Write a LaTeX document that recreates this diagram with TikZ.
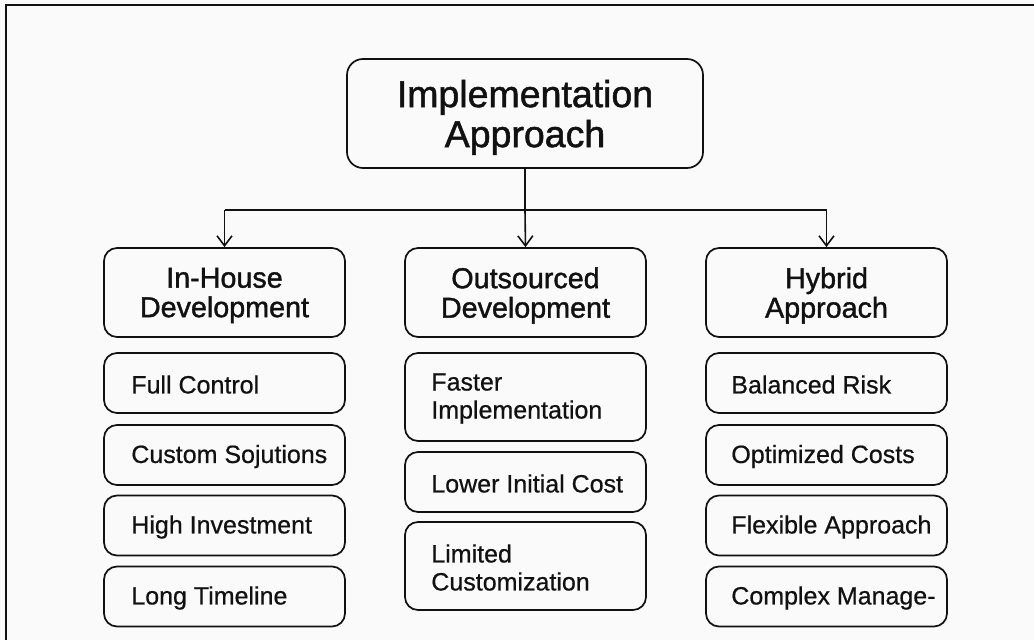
\documentclass[tikz,border=0pt]{standalone}
\usepackage{fontspec}
\setmainfont{Liberation Sans}
\newfontfamily\headfont[FakeBold=1.4]{Liberation Sans}
\newfontfamily\itemfont[FakeBold=0.6]{Liberation Sans}
\usetikzlibrary{arrows.meta}
\definecolor{bgc}{HTML}{FAFAFA}
\definecolor{ink}{HTML}{111111}
\tikzset{
  box/.style={draw=ink, line width=1.7pt, rounded corners=13pt, minimum width=241pt, inner sep=0pt},
  titlebox/.style={draw=ink, line width=1.7pt, rounded corners=16pt, minimum width=356pt, minimum height=109pt, inner sep=0pt,
    font=\headfont\fontsize{37.5}{40}\selectfont, align=center, text=ink, text depth=0pt},
  headbox/.style={box, minimum height=89pt, font=\headfont\fontsize{28.7}{29.5}\selectfont, align=center, text=ink, text depth=0pt},
  itembox/.style={box, minimum height=60pt},
  tallbox/.style={box, minimum height=88pt},
  itemtext/.style={anchor=west, inner sep=0pt, font=\itemfont\fontsize{25}{28}\selectfont, align=left, text=ink, yshift=-1.5pt},
  conn/.style={draw=ink, line width=1.6pt},
  arr/.style={conn, -{Straight Barb[length=10pt,width=15pt,line width=1.6pt]}}
}
\begin{document}
\begin{tikzpicture}[x=1pt,y=-1pt]
\fill[bgc] (0,0) rectangle (1034,640);
\useasboundingbox (0,0) rectangle (1034,640);
\draw[ink, line width=2.4pt] (6,645) -- (6,5) -- (1040,5);

\node[titlebox] (top) at (525,113.5) {Implementation\\Approach};

\node[headbox] (h1) at (224.5,292.5) {In-House\\Development};
\node[headbox] (h2) at (525.5,292.5) {Outsourced\\Development};
\node[headbox] (h3) at (826.5,292.5) {Hybrid\\Approach};

\coordinate (jn) at (525,210);
\coordinate (jl) at (224.5,210);
\coordinate (jr) at (826.5,210);
\draw[conn] (top.south) -- (jn);
\draw[conn] (jl) -- (jr);
\draw[arr] (jl) -- (h1.north);
\draw[arr] (jn) -- (h2.north);
\draw[arr] (jr) -- (h3.north);

% left column
\node[itembox] (a1) at (224.5,383) {};
\node[itemtext] (a1t) at ([xshift=28pt]a1.west) {Full Control};
\node[itembox] (a2) at (224.5,455) {};
\node[itemtext] (a2t) at ([xshift=28pt]a2.west) {Custom Sojutions};
\node[itembox] (a3) at (224.5,525.5) {};
\node[itemtext] (a3t) at ([xshift=28pt]a3.west) {High Investment};
\node[itembox] (a4) at (224.5,596.5) {};
\node[itemtext] (a4t) at ([xshift=28pt]a4.west) {Long Timeline};

% middle column
\node[tallbox] (b1) at (525.5,397) {};
\node[itemtext] (b1t) at ([xshift=27pt]b1.west) {Faster\\Implementation};
\node[itembox] (b2) at (525.5,482) {};
\node[itemtext] (b2t) at ([xshift=27pt]b2.west) {Lower Initial Cost};
\node[tallbox] (b3) at (525.5,566) {};
\node[itemtext] (b3t) at ([xshift=27pt]b3.west) {Limited\\Customization};

% right column
\node[itembox] (c1) at (826.5,383) {};
\node[itemtext] (c1t) at ([xshift=26pt]c1.west) {Balanced Risk};
\node[itembox] (c2) at (826.5,455) {};
\node[itemtext] (c2t) at ([xshift=26pt]c2.west) {Optimized Costs};
\node[itembox] (c3) at (826.5,525.5) {};
\node[itemtext] (c3t) at ([xshift=26pt]c3.west) {Flexible Approach};
\node[itembox] (c4) at (826.5,596.5) {};
\node[itemtext] (c4t) at ([xshift=26pt]c4.west) {Complex Manage-};
\end{tikzpicture}
\end{document}
